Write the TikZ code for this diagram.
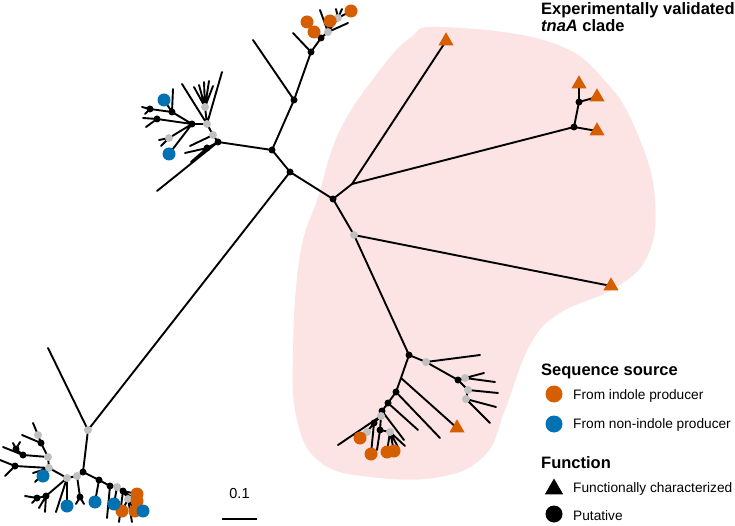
\documentclass[tikz,border=0pt]{standalone}
\usepackage{fontspec}
\setmainfont{Liberation Sans}
\usetikzlibrary{shapes.geometric}
\definecolor{orng}{RGB}{213,94,0}
\definecolor{blu}{RGB}{0,114,178}
\definecolor{gryn}{RGB}{192,192,192}
\definecolor{pnk}{RGB}{252,228,228}
\begin{document}
\begin{tikzpicture}[x=1pt,y=-1pt,
 br/.style={line width=1.9pt,line cap=round,line join=round},
 bn/.style={circle,fill=black,inner sep=0pt,minimum size=7pt},
 gn/.style={circle,fill=gryn,inner sep=0pt,minimum size=8pt},
 on/.style={circle,fill=orng,inner sep=0pt,minimum size=13pt},
 un/.style={circle,fill=blu,inner sep=0pt,minimum size=13pt},
 tn/.style={regular polygon,regular polygon sides=3,fill=orng,inner sep=0pt,minimum size=17.5pt},
 lab/.style={anchor=base west,inner sep=0pt,font=\fontsize{13.7}{16}\selectfont},
 hd/.style={anchor=base west,inner sep=0pt,font=\fontsize{16.5}{19}\selectfont\bfseries}]
\useasboundingbox (0,0) rectangle (735,526);
% clade shading
\fill[pnk] plot[smooth cycle,tension=0.7] coordinates {(440,27) (550,42) (607,83) (640,140) (655,200) (648,255) (615,288) (560,313) (530,345) (505,410) (485,455) (440,477) (370,477) (320,462) (297,420) (293,350) (300,255) (318,197) (340,130) (380,70) (410,38)};
% ---------- coordinates ----------
\coordinate (r0) at (88,430);
\coordinate (lf0) at (48,348);
\coordinate (a) at (290,172);
\coordinate (b) at (272,150);
\coordinate (c) at (333,199);
\coordinate (d) at (294,100);
\coordinate (e) at (218,142);
\coordinate (j) at (352,184);
\coordinate (t1) at (446,41);
\coordinate (f) at (574,127);
\coordinate (g) at (579,102);
\coordinate (t2) at (579,84);
\coordinate (t3) at (597,97);
\coordinate (t4) at (597,131);
\coordinate (h) at (354,235);
\coordinate (t5) at (611,286);
\coordinate (i) at (409,355);
% right lower clade
\coordinate (i1) at (426,362);
\coordinate (i2) at (458,380);
\coordinate (i3) at (465,378);
\coordinate (i4) at (468,390);
\coordinate (i5) at (466,399);
\coordinate (k0) at (401,378);
\coordinate (t6) at (457,428);
\coordinate (k1) at (396,392);
\coordinate (k2) at (388,403);
\coordinate (k3) at (382,411);
\coordinate (k4) at (381,416);
\coordinate (m1) at (374,423);
\coordinate (m2) at (367,432);
\coordinate (m3) at (380,430);
\coordinate (m4) at (390,432);
\coordinate (oa) at (360,438);
\coordinate (ob) at (371,454);
\coordinate (oc) at (387,452);
\coordinate (od) at (394,451);
% top cluster
\coordinate (ta) at (311,52);
\coordinate (tb) at (321,38);
\coordinate (tg1) at (328,32);
\coordinate (tg2) at (338,18);
\coordinate (o1) at (307,22);
\coordinate (o2) at (314,32);
\coordinate (o3) at (330,21);
\coordinate (o4) at (351,11);
% upper-left cluster
\coordinate (e1) at (207,148);
\coordinate (ge) at (213,135);
\coordinate (gf) at (207,124);
\coordinate (gg) at (205,107);
\coordinate (m) at (192,124);
\coordinate (p) at (169,138);
\coordinate (n) at (172,112);
\coordinate (q) at (150,109);
\coordinate (r) at (157,119);
\coordinate (ub1) at (164,100);
\coordinate (ub2) at (169,154);
% bottom-left cluster
\coordinate (bl) at (83,472);
\coordinate (ga) at (77,476);
\coordinate (gb) at (67,478);
\coordinate (gc) at (49,468);
\coordinate (gd) at (48,457);
\coordinate (s1) at (41,443);
\coordinate (s2) at (38,435);
\coordinate (s3) at (23,455);
\coordinate (s4) at (16,449);
\coordinate (s5) at (15,466);
\coordinate (s6) at (46,496);
\coordinate (s7) at (37,498);
\coordinate (s8) at (80,497);
\coordinate (s9) at (99,480);
\coordinate (s10) at (110,486);
\coordinate (s11) at (117,487);
\coordinate (s12) at (123,491);
\coordinate (s13) at (128,499);
\coordinate (ub3) at (43,476);
\coordinate (ub4) at (67,506);
\coordinate (ub5) at (95,502);
\coordinate (ub6) at (114,504);
\coordinate (ub7) at (143,511);
\coordinate (o5) at (122,511);
\coordinate (o6) at (135,511);
\coordinate (o7) at (137,494);
\coordinate (o8) at (137,501);
% ---------- branches ----------
\draw[br] (r0)--(lf0) (r0)--(a) (a)--(b) (a)--(c) (b)--(d) (b)--(e)
 (c)--(j) (j)--(t1) (j)--(f) (f)--(g) (g)--(t2) (g)--(t3) (f)--(t4)
 (c)--(h) (h)--(t5) (h)--(i);
% right lower clade
\draw[br] (i)--(i1) (i1)--(480,355) coordinate (x1) (i1)--(i2) (i2)--(i3)
 (i3)--(484,373) coordinate (x2) (i3)--(495,382) coordinate (x3)
 (i2)--(i4) (i4)--(498,393) coordinate (x4) (i4)--(i5)
 (i5)--(496,407) coordinate (x5) (i5)--(490,423) coordinate (x6);
\draw[br] (i)--(k0) (k0)--(t6) (k0)--(k1) (k1)--(k2) (k2)--(k3) (k3)--(k4)
 (k1)--(440,438) coordinate (x7) (k2)--(418,430) coordinate (x8)
 (k3)--(404,440) coordinate (x9) (k4)--(338,445) coordinate (x10)
 (k4)--(m1) (m1)--(m2) (m2)--(oa) (m1)--(ob) (k4)--(m3)
 (m3)--(377,450) coordinate (x11) (m3)--(m4) (m4)--(oc) (m4)--(od)
 (m4)--(405,446) coordinate (x12) (m4)--(399,449) coordinate (x13);
% top cluster
\draw[br] (d)--(253,40) coordinate (y1) (d)--(ta) (ta)--(293,33) coordinate (y2)
 (ta)--(tb) (tb)--(o1) (tb)--(o2) (tb)--(tg1) (tg1)--(320,10) coordinate (y3)
 (tg1)--(o3) (tg1)--(348,23) coordinate (y4) (tg1)--(tg2) (tg2)--(o4)
 (tg2)--(336,9) coordinate (y5) (tg2)--(342,9) coordinate (y6);
% upper-left cluster
\draw[br] (e)--(157,191) coordinate (z0) (e)--(e1) (e1)--(185,153) coordinate (z1)
 (e1)--(191,162) coordinate (z2) (e)--(ge) (ge)--(190,146) coordinate (z17)
 (ge)--(gf) (gf)--(182,84) coordinate (z3) (gf)--(222,72) coordinate (z4)
 (gf)--(gg) (gg)--(194,87) coordinate (z5) (gg)--(199,85) coordinate (z6)
 (gg)--(204,82) coordinate (z7) (gg)--(209,81) coordinate (z8) (gg)--(213,86) coordinate (z9)
 (gf)--(m) (m)--(p) (p)--(159,140) coordinate (z10) (p)--(161,146) coordinate (z11)
 (m)--(ub2) (m)--(n) (n)--(q) (q)--(142,107) coordinate (z12) (q)--(145,114) coordinate (z13)
 (n)--(ub1) (n)--(173,89) coordinate (z14) (m)--(r) (r)--(143,118) coordinate (z15)
 (r)--(146,127) coordinate (z16);
% bottom-left cluster
\draw[br] (r0)--(bl) (bl)--(ga) (ga)--(gb) (gb)--(gc) (gc)--(gd)
 (gd)--(s1) (s1)--(s2) (s2)--(33,423) coordinate (w1) (s1)--(22,435) coordinate (w2)
 (gd)--(s3) (s3)--(s4) (s4)--(13,443) coordinate (w3) (s4)--(20,442) coordinate (w4)
 (s3)--(3,447) coordinate (w5)
 (gc)--(s5) (s5)--(0,460) coordinate (w6) (s5)--(5,476) coordinate (w7)
 (gc)--(ub3) (gc)--(33,473) coordinate (w8) (gc)--(35,482) coordinate (w9)
 (gb)--(s6) (s6)--(s7) (s7)--(25,496) coordinate (w10) (s7)--(32,503) coordinate (w11)
 (s6)--(39,508) coordinate (w12) (s6)--(45,512) coordinate (w13)
 (gb)--(56,512) coordinate (w14) (gb)--(ub4)
 (ga)--(s8) (s8)--(76,504) coordinate (w15) (s8)--(84,504) coordinate (w16)
 (bl)--(s9) (s9)--(ub5) (s9)--(s10) (s10)--(107,518) coordinate (w17)
 (s10)--(s11) (s11)--(ub6) (s11)--(s12) (s12)--(119,522) coordinate (w18)
 (s12)--(s13) (s13)--(o5) (s13)--(o6) (s13)--(ub7) (s12)--(o7) (s12)--(o8)
 (s13)--(132,522) coordinate (w19);
% ---------- internal nodes ----------
\foreach \p in {a,b,c,d,e,f,g,i,i2,k1,k2,k3,m1,m3,ta,tb,e1,m,n,q,r,bl,s1,s3,s4,s5,s6,s7,s8,s9,s10,s12}
  \node[bn] (N\p) at (\p) {};
\foreach \p in {r0,h,i1,i3,i4,i5,k4,m2,m4,tg1,tg2,ge,gf,gg,p,ga,gb,gc,gd,s2,s11,s13}
  \node[gn] (N\p) at (\p) {};
% ---------- leaf markers ----------
\foreach \p in {oa,ob,oc,od,o1,o2,o3,o4,o5,o6,o7,o8}
  \node[on] (N\p) at (\p) {};
\foreach \p in {ub1,ub2,ub3,ub4,ub5,ub6,ub7}
  \node[un] (N\p) at (\p) {};
\foreach \p in {t1,t2,t3,t4,t5,t6}
  \node[tn] (N\p) at (\p) {};
% ---------- title ----------
\node[hd] (tt1) at (541,15) {Experimentally validated};
\node[hd] (tt2) at (541,32) {\textit{tnaA} clade};
% ---------- legend ----------
\node[hd] (ls) at (541,375) {Sequence source};
\node[on,minimum size=17pt] (lo) at (554,394) {};
\node[lab] (lot) at (573,399) {From indole producer};
\node[un,minimum size=17pt] (lu) at (554,424) {};
\node[lab] (lut) at (573,428) {From non-indole producer};
\node[hd] (lf) at (541,468) {Function};
\node[tn,fill=black,minimum size=21pt] (lt) at (554,489) {};
\node[lab] (ltt) at (573,492) {Functionally characterized};
\node[bn,minimum size=17pt] (lb) at (554,514) {};
\node[lab] (lbt) at (573,520) {Putative};
% ---------- scale bar ----------
\node[lab,anchor=base,font=\fontsize{14.5}{17}\selectfont] (sc) at (239.5,498) {0.1};
\coordinate (sb0) at (222,519);
\coordinate (sb1) at (257,519);
\draw[line width=1.6pt] (sb0)--(sb1);
\end{tikzpicture}
\end{document}
